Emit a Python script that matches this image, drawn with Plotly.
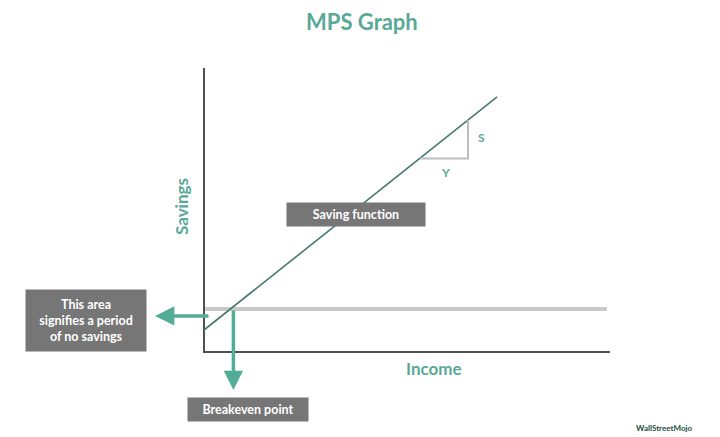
import plotly.graph_objects as go

# ---- conceptual data (arbitrary income / savings units) ----
axis_income = [0, 0, 13.53]          # vertical savings axis then horizontal income axis
axis_savings = [8.03, -1.433, -1.433]
zero_line_income = [0, 13.43]        # zero-savings (breakeven) level
zero_line_savings = [0, 0]
saving_fn_income = [0, 9.77]         # saving function
saving_fn_savings = [-0.70, 7.07]
slope_income = [7.2, 8.8, 8.8]       # slope triangle (ΔY, ΔS)
slope_savings = [5.02, 5.02, 6.30]
left_arrow_income = [0.2, -1.63]     # tail, tip
left_arrow_savings = [-0.233, -0.233]
down_arrow_income = [0.98, 0.98]
down_arrow_savings = [0.0, -2.7]

TEAL = "#52ac98"
TEXT_TEAL = "#5aa896"
BOX = "#767676"
FONT = "Lato"

fig = go.Figure()
fig.add_trace(go.Scatter(x=zero_line_income, y=zero_line_savings, mode="lines",
                         line=dict(color="#c9c9c9", width=4), hoverinfo="skip"))
fig.add_trace(go.Scatter(x=axis_income, y=axis_savings, mode="lines",
                         line=dict(color="#505050", width=2), hoverinfo="skip"))
fig.add_trace(go.Scatter(x=saving_fn_income, y=saving_fn_savings, mode="lines",
                         line=dict(color="#46796f", width=1.6), hoverinfo="skip"))
fig.add_trace(go.Scatter(x=slope_income, y=slope_savings, mode="lines",
                         line=dict(color="#bdbdbd", width=2), hoverinfo="skip"))

for xs, ys in [(left_arrow_income, left_arrow_savings), (down_arrow_income, down_arrow_savings)]:
    fig.add_annotation(x=xs[1], y=ys[1], ax=xs[0], ay=ys[0], xref="x", yref="y",
                       axref="x", ayref="y", text="", showarrow=True,
                       arrowhead=2, arrowsize=1.1, arrowwidth=3.5, arrowcolor=TEAL,
                       standoff=0, startstandoff=0)

def px(x):
    return x / 720

def py(y):
    return 1 - y / 437

def box(text, cx, cy, w, h, size=12.5):
    fig.add_annotation(x=px(cx), y=py(cy), xref="paper", yref="paper", text=text,
                       showarrow=False, bgcolor=BOX, width=w, height=h, borderpad=0,
                       font=dict(family=FONT, size=size, color="white"),
                       xanchor="center", yanchor="middle", align="center")

box("<b>Saving function</b>", 356, 214.5, 138, 23)
box("<b>This area<br>signifies a period<br>of no savings</b>", 86, 320.5, 120, 61)
box("<b>Breakeven point</b>", 248, 409.5, 120, 23)

def label(text, cx, cy, size, color=TEXT_TEAL, angle=0):
    fig.add_annotation(x=px(cx), y=py(cy), xref="paper", yref="paper", text=text,
                       showarrow=False, textangle=angle,
                       font=dict(family=FONT, size=size, color=color),
                       xanchor="center", yanchor="middle")

label("<b>MPS Graph</b>", 362, 22, 22)
label("<b>Income</b>", 434, 368, 17)
label("<b>Savings</b>", 182, 207, 17, angle=-90)
label("<b>S</b>", 482, 137, 12)
label("<b>Y</b>", 445, 172, 12)
label("<b>WallStreetMojo</b>", 664, 428, 8, color="#1d4f3a")

fig.update_layout(
    width=720, height=437, margin=dict(l=0, r=0, t=0, b=0),
    paper_bgcolor="white", plot_bgcolor="white", showlegend=False,
    xaxis=dict(range=[-6.8, 17.2], visible=False, fixedrange=True),
    yaxis=dict(range=[-4.2667, 10.3], visible=False, fixedrange=True),
)
fig.write_html("out.html", config={"displayModeBar": False},
               post_script="document.body.style.margin='0';document.body.style.overflow='hidden';")
